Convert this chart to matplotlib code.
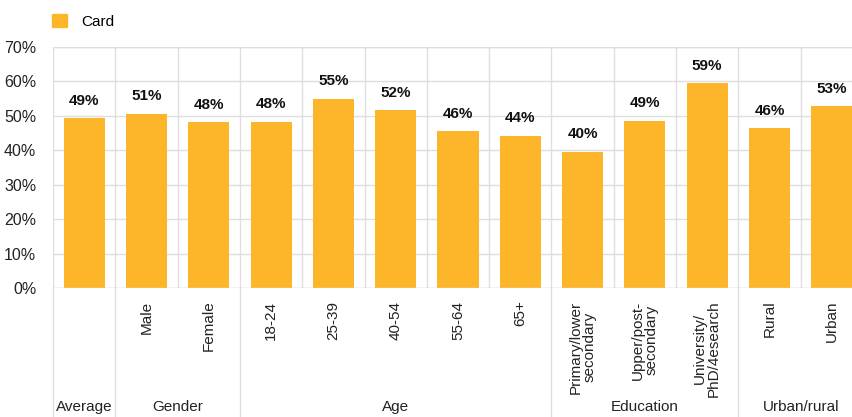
import matplotlib.pyplot as plt
from matplotlib.patches import Patch
from matplotlib.transforms import blended_transform_factory

plt.rcParams['font.family'] = ['Liberation Sans', 'DejaVu Sans']

# share of respondents using a card, by segment
categories = ["", "Male", "Female", "18-24", "25-39", "40-54", "55-64", "65+",
              "Primary/lower\nsecondary", "Upper/post-\nsecondary",
              "University/\nPhD/4esearch", "Rural", "Urban"]
card = [49.3, 50.6, 48.1, 48.3, 55.0, 51.7, 45.5, 44.2, 39.6, 48.6, 59.4, 46.4, 52.8]
groups = ["Average", "Gender", "Age", "Education", "Urban/rural"]
group_sizes = [1, 2, 5, 3, 2]

bar_color = "#FDB52A"
grid_color = "#DEDEDE"
text_color = "#222222"

fig = plt.figure(figsize=(8.52, 4.17), dpi=100)
ax = fig.add_axes([53 / 852, 129 / 417, 810 / 852, 241 / 417])

x = list(range(len(categories)))
ax.bar(x, card, width=0.66, color=bar_color, zorder=3)
for xi, v in zip(x, card):
    ax.text(xi, v + 3.0, f"{round(v)}%", ha="center", va="bottom",
            fontsize=11, fontweight="bold", color="#111111")

ax.set_xlim(-0.5, len(categories) - 0.5)
ax.set_ylim(0, 70)
ax.set_yticks(range(0, 71, 10))
ax.set_yticklabels([f"{t}%" for t in range(0, 71, 10)], fontsize=11.5, color=text_color)
ax.tick_params(axis="y", length=0, pad=12)
ax.set_xticks(x)
ax.set_xticklabels(categories, rotation=90, fontsize=11, color=text_color,
                   va="top", ha="center", linespacing=1.0)
ax.tick_params(axis="x", length=0, pad=9)

ax.grid(axis="y", color=grid_color, linewidth=1, zorder=0)
for b in range(len(categories)):
    ax.axvline(b - 0.5, color=grid_color, linewidth=1, zorder=0)
for s in ax.spines.values():
    s.set_visible(False)
ax.axhline(0, color=grid_color, linewidth=1, zorder=4)
ax.axhline(70, color=grid_color, linewidth=1, zorder=0)

# group separators and group names under the tick labels
trans = blended_transform_factory(ax.transData, ax.transAxes)
start = 0
ax.plot([-0.5, -0.5], [0, -0.54], color=grid_color, lw=1, transform=trans, clip_on=False)
for name, n in zip(groups, group_sizes):
    end = start + n
    ax.plot([end - 0.5, end - 0.5], [0, -0.54], color=grid_color, lw=1,
            transform=trans, clip_on=False)
    ax.text((start + end - 1) / 2, -0.495, name, ha="center", va="center",
            fontsize=11, color=text_color, transform=trans)
    start = end

ax.legend(handles=[Patch(color=bar_color, label="Card")], loc="upper left",
          bbox_to_anchor=(38 / 852, 1.0), bbox_transform=fig.transFigure,
          frameon=False, handlelength=1.0, handleheight=1.0, fontsize=11,
          handletextpad=0.9)

fig.savefig("out.png", dpi=100)
